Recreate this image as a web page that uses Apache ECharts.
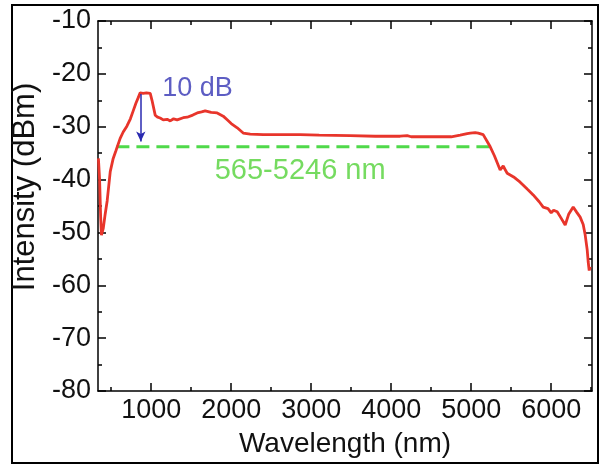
<!DOCTYPE html>
<html>
<head>
<meta charset="utf-8">
<script src="https://cdn.jsdelivr.net/npm/echarts@6/dist/echarts.min.js"></script>
<style>
html,body{margin:0;padding:0;background:#fff;}
#chart{width:602px;height:466px;}
</style>
</head>
<body>
<div id="chart"></div>
<script>
// ---- data ----
const X_MIN = 335, X_MAX = 6510;
const Y_MIN = -80, Y_MAX = -10;
const xMajorTicks = [1000, 2000, 3000, 4000, 5000, 6000];
const xMinorTicks = [500, 1500, 2500, 3500, 4500, 5500, 6500];
const wavelength = [340, 355, 368, 378, 390, 400, 425, 450, 488, 525, 560, 612, 650, 696, 740, 775, 810, 838, 862, 900, 940, 988, 1010, 1050, 1080, 1112, 1150, 1200, 1238, 1280, 1325, 1400, 1450, 1520, 1575, 1630, 1675, 1750, 1825, 1900, 1950, 2000, 2075, 2150, 2238, 2400, 2600, 2862, 3100, 3488, 3800, 4112, 4200, 4250, 4400, 4612, 4750, 4862, 4950, 4988, 5050, 5088, 5150, 5200, 5238, 5290, 5362, 5400, 5420, 5450, 5530, 5612, 5700, 5775, 5850, 5900, 5960, 6000, 6030, 6075, 6120, 6175, 6220, 6275, 6320, 6362, 6400, 6425, 6450, 6462, 6475, 6488];
const intensity = [-36.0, -40.0, -47.0, -50.5, -50.2, -49.3, -46.5, -44.0, -38.5, -36.0, -34.5, -32.2, -31.0, -29.9, -28.5, -27.0, -25.5, -24.5, -23.6, -23.7, -23.6, -23.7, -25.0, -27.8, -28.2, -28.35, -28.7, -28.6, -28.9, -28.5, -28.7, -28.3, -28.2, -27.8, -27.4, -27.2, -27.0, -27.3, -27.4, -28.0, -28.7, -29.4, -30.2, -31.2, -31.4, -31.5, -31.5, -31.5, -31.6, -31.7, -31.8, -31.8, -31.7, -31.9, -31.9, -31.9, -31.9, -31.6, -31.3, -31.2, -31.1, -31.2, -31.5, -32.8, -33.8, -35.5, -38.2, -37.4, -38.0, -38.8, -39.5, -40.5, -41.8, -42.9, -44.2, -45.2, -45.5, -46.3, -45.8, -46.1, -47.2, -48.6, -46.5, -45.2, -46.2, -47.1, -48.5, -50.5, -53.3, -55.5, -57.2, -56.5];
const bandLevel = -33.8;
const bandRange = [565, 5246];
const arrowX = 870;
const arrowFrom = -23.8, arrowTo = -32.8;
const label10dB = [1137, -22.7];
const labelBand = [2862, -38.4];

const FONT = '"Liberation Sans", Arial, Helvetica, sans-serif';
const curve = wavelength.map((w, i) => [w, intensity[i]]);

const chart = echarts.init(document.getElementById('chart'), null, {renderer: 'canvas'});

function xAx(pos, ticks, len, labels, line) {
  return {
    type: 'value', position: pos, min: X_MIN, max: X_MAX,
    splitLine: {show: false},
    axisLine: {show: line, onZero: false, lineStyle: {color: '#000', width: 1.5}},
    axisTick: {show: true, inside: true, length: len, customValues: ticks, lineStyle: {color: '#000', width: 1.5}},
    axisLabel: labels ? {show: true, customValues: ticks, formatter: v => String(v), color: '#111', fontSize: 27, fontFamily: FONT, margin: 6} : {show: false},
    name: labels ? 'Wavelength (nm)' : '',
    nameLocation: 'middle', nameGap: 39,
    nameTextStyle: {color: '#111', fontSize: 28, fontFamily: FONT}
  };
}
function yAx(pos, labels) {
  return {
    type: 'value', position: pos, min: Y_MIN, max: Y_MAX, interval: 10,
    splitLine: {show: false},
    axisLine: {show: true, onZero: false, lineStyle: {color: '#000', width: 1.5}},
    axisTick: {show: true, inside: true, length: 8, lineStyle: {color: '#000', width: 1.5}},
    minorTick: {show: true, splitNumber: 2, length: 4, lineStyle: {color: '#000', width: 1.5}},
    axisLabel: labels ? {show: true, color: '#111', fontSize: 27, fontFamily: FONT, margin: 7} : {show: false},
    name: labels ? 'Intensity (dBm)' : '',
    nameLocation: 'middle', nameGap: 57, nameRotate: 90,
    nameTextStyle: {color: '#111', fontSize: 31, fontFamily: FONT, padding: [0, 0, 0, 38]}
  };
}

chart.setOption({
  animation: false,
  backgroundColor: '#fff',
  grid: {left: 98, right: 10, top: 21, bottom: 75, containLabel: false},
  xAxis: [
    xAx('bottom', xMajorTicks, 8, true, true),
    xAx('bottom', xMinorTicks, 4, false, false),
    xAx('top', xMajorTicks, 8, false, true),
    xAx('top', xMinorTicks, 4, false, false)
  ],
  yAxis: [yAx('left', true), yAx('right', false)],
  graphic: [{
    type: 'rect', shape: {x: 12, y: 5, width: 586, height: 458},
    style: {fill: 'none', stroke: '#000', lineWidth: 2}, silent: true
  }],
  series: [
    {
      type: 'line', data: curve, showSymbol: false, smooth: false,
      lineStyle: {color: '#e8352b', width: 2.8}, z: 3
    },
    {
      type: 'line', data: bandRange.map(w => [w, bandLevel]), showSymbol: false,
      lineStyle: {color: '#4fd94a', width: 3, type: [13, 7]}, z: 2,
      markLine: {
        silent: true, symbol: ['none', 'arrow'], symbolSize: [7, 10],
        label: {show: false},
        lineStyle: {color: '#2a2ab0', width: 1.5, type: 'solid'},
        data: [[{coord: [arrowX, arrowFrom]}, {coord: [arrowX, arrowTo]}]]
      }
    },
    {
      type: 'scatter', symbolSize: 0, silent: true, z: 4,
      data: [
        {value: label10dB, label: {show: true, position: 'right', distance: 0, formatter: '10 dB', color: '#3434b4', fontSize: 27, fontFamily: FONT}},
        {value: labelBand, label: {show: true, position: 'inside', formatter: '565-5246 nm', color: '#52d238', fontSize: 29, fontFamily: FONT}}
      ]
    }
  ]
});
</script>
</body>
</html>
